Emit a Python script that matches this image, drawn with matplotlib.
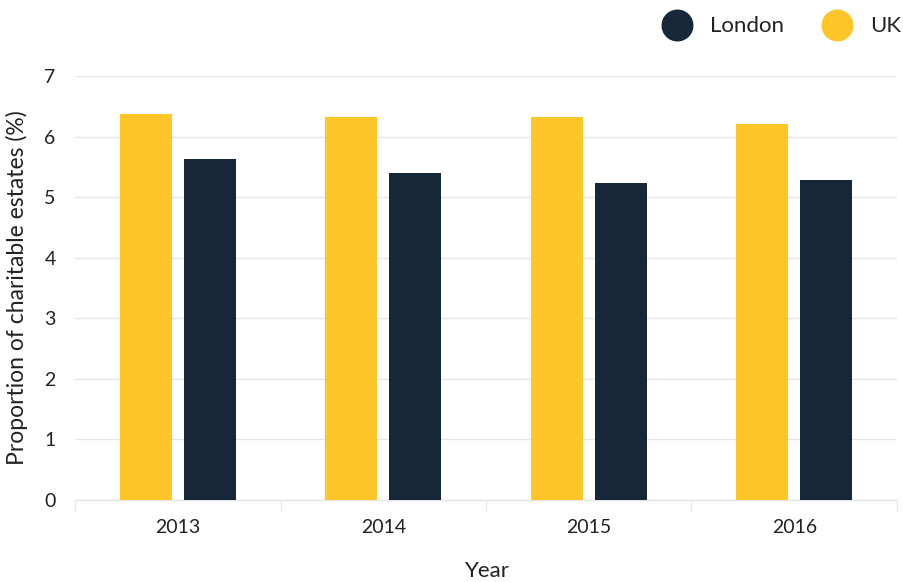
import matplotlib
matplotlib.use("Agg")
import matplotlib.pyplot as plt
import numpy as np
from matplotlib.lines import Line2D

years = ["2013", "2014", "2015", "2016"]
uk = [6.38, 6.32, 6.32, 6.21]
london = [5.63, 5.40, 5.23, 5.28]
yticks = [0, 1, 2, 3, 4, 5, 6, 7]
series_names = ["London", "UK"]

UK_COL = "#FEC629"
LON_COL = "#152739"
TXT = "#222222"
GRID = "#E6E6E6"

plt.rcParams['font.family'] = ['Lato', 'DejaVu Sans']

W, H = 904, 582
fig = plt.figure(figsize=(W / 100, H / 100), dpi=100)
ax = fig.add_axes([75 / W, (H - 500) / H, (897 - 75) / W, (500 - 76) / H])

x = np.arange(len(years))
bw = 0.253
off = 0.156
ax.bar(x - off, uk, width=bw, color=UK_COL, zorder=3)
ax.bar(x + off, london, width=bw, color=LON_COL, zorder=3)

ax.set_xlim(-0.5, len(years) - 0.5)
ax.set_ylim(0, 7)
ax.set_yticks(yticks)
ax.set_yticklabels([str(v) for v in yticks])
ax.yaxis.grid(True, color=GRID, linewidth=1, zorder=0)
ax.tick_params(axis='y', length=0, pad=14, labelsize=14, labelcolor=TXT)

ax.set_xticks(x)
ax.set_xticklabels(years)
ax.tick_params(axis='x', length=0, pad=14, labelsize=14, labelcolor=TXT)
ax.set_xticks(np.arange(-0.5, len(years) + 0.5, 1.0), minor=True)
ax.tick_params(axis='x', which='minor', length=8, color=GRID, width=1)

for s in ['top', 'right', 'left']:
    ax.spines[s].set_visible(False)
ax.spines['bottom'].set_color(GRID)
ax.spines['bottom'].set_linewidth(1)

fig.text(17 / W, 1 - 288 / H, "Proportion of charitable estates (%)", rotation=90,
         ha='center', va='center', fontsize=16.5, color=TXT)
fig.text(487 / W, 1 - 571 / H, "Year", ha='center', va='center', fontsize=16, color=TXT)

# legend
leg_items = [(series_names[0], LON_COL, 677, 710), (series_names[1], UK_COL, 837, 870)]
for name, col, cx, tx in leg_items:
    fig.add_artist(Line2D([cx / W], [1 - 25 / H], transform=fig.transFigure, marker='o',
                          linestyle='none', markersize=22, markerfacecolor=col, markeredgecolor=col))
    fig.text(tx / W, 1 - 26 / H, name, ha='left', va='center', fontsize=16, color=TXT)

fig.savefig("out.png", dpi=100)
